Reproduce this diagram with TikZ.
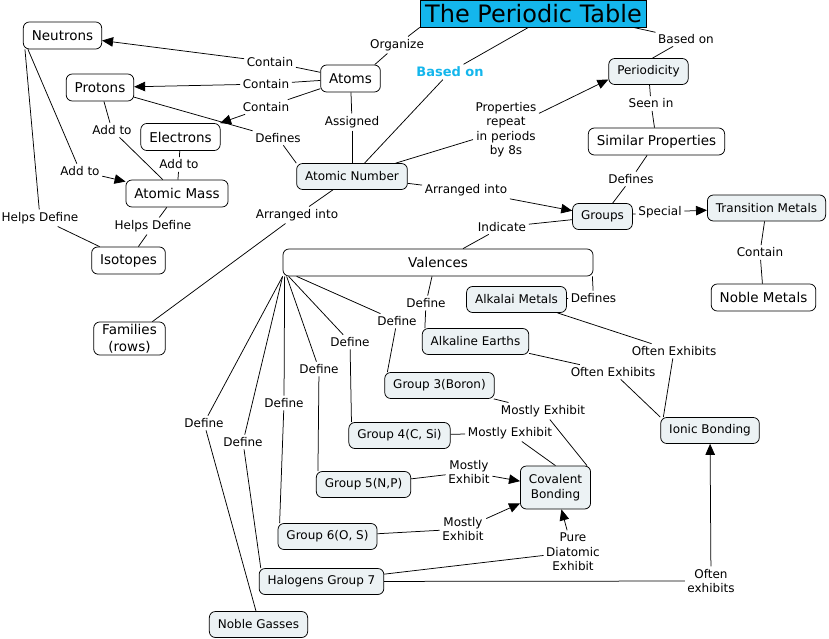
\documentclass[tikz,border=0pt]{standalone}
\usepackage{fontspec}
\setmainfont{DejaVu Sans}
\usetikzlibrary{arrows.meta}
\definecolor{titlecyan}{RGB}{20,182,236}
\definecolor{conceptfill}{RGB}{236,242,244}
\tikzset{	x=1pt, y=-1pt,
	concept/.style={
		draw, rounded corners=6pt, line width=0.75pt,
		minimum height=27pt, inner xsep=8.5pt, inner ysep=2pt,
		align=center, font=\fontsize{13.5}{17}\selectfont},
	fconcept/.style={
		concept, fill=conceptfill, minimum height=26pt,
		font=\fontsize{12}{14.5}\selectfont},
	titlebox/.style={
		draw, fill=titlecyan, line width=0.75pt,
		minimum height=27pt, inner xsep=5pt, inner ysep=0pt,
		font=\fontsize{24}{26}\selectfont},
	phrase/.style={
		inner sep=2.5pt, align=center,
		font=\fontsize{12}{14.5}\selectfont},
	>={Triangle[length=11pt,width=9.5pt]},
	every edge/.style={
		draw, line width=0.75pt}
}
\begin{document}
\begin{tikzpicture}
	\useasboundingbox (0,0) rectangle (829,639);
	\node[titlebox] (title) at (533.5,13.5) {The Periodic Table};
	\node[concept] (neut) at (62.5,35.5) {Neutrons};
	\node[concept] (prot) at (100,87.5) {Protons};
	\node[concept] (elec) at (180.5,137) {Electrons};
	\node[concept] (atoms) at (350.5,78.5) {Atoms};
	\node[concept] (amass) at (177,193.5) {Atomic Mass};
	\node[concept] (iso) at (128.5,260.5) {Isotopes};
	\node[concept] (fam) at (129.5,338.5) {Families\\(rows)};
	\node[concept, minimum width=310pt] (val) at (438,262.5) {Valences};
	\node[concept] (simprop) at (656.5,141.5) {Similar Properties};
	\node[concept] (nmet) at (763.5,297.5) {Noble Metals};
	\node[fconcept] (anum) at (352,176.5) {Atomic Number};
	\node[fconcept] (peri) at (648.5,71.5) {Periodicity};
	\node[fconcept] (grp) at (602.5,216.5) {Groups};
	\node[fconcept] (trans) at (766.5,208) {Transition Metals};
	\node[fconcept] (alkm) at (516.5,299.5) {Alkalai Metals};
	\node[fconcept] (alke) at (475.5,341.5) {Alkaline Earths};
	\node[fconcept] (gthree) at (439.5,385.5) {Group 3(Boron)};
	\node[fconcept] (gfour) at (399.5,435.5) {Group 4(C, Si)};
	\node[fconcept] (gfive) at (363.5,484.5) {Group 5(N,P)};
	\node[fconcept] (gsix) at (327.5,536.5) {Group 6(O, S)};
	\node[fconcept, minimum height=43pt] (cov) at (555.5,487.5) {Covalent\\Bonding};
	\node[fconcept] (halo) at (321.5,581.5) {Halogens Group 7};
	\node[fconcept] (ngas) at (258.5,624.5) {Noble Gasses};
	\node[fconcept] (ionic) at (710,430.5) {Ionic Bonding};
	\node[phrase] (porg) at (397,45) {Organize};
	\node[phrase, text=titlecyan, font=\bfseries\fontsize{13}{15}\selectfont] (pbase) at (450,72) {Based on};
	\node[phrase] (pbaseb) at (686,39) {Based on};
	\node[phrase] (pcontn) at (270,62) {Contain};
	\node[phrase] (pcontp) at (266,84) {Contain};
	\node[phrase] (pconte) at (266,107) {Contain};
	\node[phrase] (passig) at (352,122) {Assigned};
	\node[phrase] (pdefan) at (278,138) {Defines};
	\node[phrase] (paddp) at (112,130) {Add to};
	\node[phrase] (padde) at (179,164.5) {Add to};
	\node[phrase] (paddn) at (80,171) {Add to};
	\node[phrase] (phelpn) at (40,218) {Helps Define};
	\node[phrase] (phelpm) at (153,226) {Helps Define};
	\node[phrase] (parrf) at (297,215) {Arranged into};
	\node[phrase] (pprop) at (506,129.5) {Properties\\repeat\\in periods\\by 8s};
	\node[phrase] (pseen) at (651,103.5) {Seen in};
	\node[phrase] (pdefg) at (631,179) {Defines};
	\node[phrase] (parrg) at (466,190.5) {Arranged into};
	\node[phrase] (pspec) at (660,212) {Special};
	\node[phrase] (pind) at (502,227) {Indicate};
	\node[phrase] (pcontt) at (760,252.5) {Contain};
	\node[phrase] (pdefalk) at (593.5,298) {Defines};
	\node[phrase] (pdefae) at (426,303) {Define};
	\node[phrase] (pdefgthree) at (397,321) {Define};
	\node[phrase] (pdefgfour) at (350,342) {Define};
	\node[phrase] (pdefgfive) at (319,369) {Define};
	\node[phrase] (pdefgsix) at (284,403) {Define};
	\node[phrase] (pdefhal) at (243,442) {Define};
	\node[phrase] (pdefng) at (204,423) {Define};
	\node[phrase] (poftalk) at (674,351) {Often Exhibits};
	\node[phrase] (poftae) at (613,372) {Often Exhibits};
	\node[phrase] (pmostthree) at (543,411) {Mostly Exhibit};
	\node[phrase] (pmostfour) at (510,433) {Mostly Exhibit};
	\node[phrase] (pmostfive) at (469,472) {Mostly\\Exhibit};
	\node[phrase] (pmostsix) at (463,529) {Mostly\\Exhibit};
	\node[phrase] (ppure) at (573,552) {Pure\\Diatomic\\Exhibit};
	\node[phrase] (poftion) at (711,581) {Often\\exhibits};
	\draw (title.south west) edge (porg) (porg) edge ([xshift=-6pt]atoms.north east);
	\draw ([xshift=-5pt]title.south) edge (pbase) (pbase) edge (anum);
	\draw ([xshift=-14pt]title.south east) edge (pbaseb) (pbaseb) edge ([xshift=4pt]peri.north);
	\draw (atoms) edge (pcontn) (pcontn) edge[->] (neut);
	\draw (atoms) edge (pcontp) (pcontp) edge[->] (prot);
	\draw (atoms) edge (pconte) (pconte) edge[->] (elec);
	\draw (atoms) edge (passig) (passig) edge (anum);
	\draw (prot) edge (pdefan) (pdefan) edge (anum.north west);
	\draw (prot) edge (paddp) (paddp) edge (amass);
	\draw (elec) edge (padde) (padde) edge (amass);
	\draw ([xshift=5pt]neut.south west) edge (paddn) (paddn) edge[->] (amass);
	\draw ([xshift=2pt]neut.south west) edge (phelpn) (phelpn) edge (iso);
	\draw (amass) edge (phelpm) (phelpm) edge (iso);
	\draw (anum) edge (parrf) (parrf) edge (fam);
	\draw (anum) edge (pprop) (pprop) edge[->] ([yshift=-8pt]peri.west);
	\draw (peri) edge (pseen) (pseen) edge (simprop);
	\draw (simprop) edge (pdefg) (pdefg) edge (grp);
	\draw (anum) edge (parrg) (parrg) edge[->] (grp);
	\draw (grp) edge (pspec) (pspec) edge[->] (trans);
	\draw (grp) edge (pind) (pind) edge (val);
	\draw (trans) edge (pcontt) (pcontt) edge (nmet);
	\draw ([xshift=-1pt]val.south east) edge (pdefalk) (pdefalk) edge (alkm);
	\draw ([xshift=-6pt]val.south) edge (pdefae) (pdefae) edge ([xshift=3pt]alke.north west);
	\draw ([xshift=14pt]val.south west) edge (pdefgthree) (pdefgthree) edge ([xshift=3pt]gthree.north west);
	\draw ([xshift=6pt]val.south west) edge (pdefgfour) (pdefgfour) edge ([xshift=3pt]gfour.north west);
	\draw ([xshift=4pt]val.south west) edge (pdefgfive) (pdefgfive) edge ([xshift=2pt]gfive.north west);
	\draw ([xshift=2pt]val.south west) edge (pdefgsix) (pdefgsix) edge ([xshift=2pt]gsix.north west);
	\draw (val.south west) edge (pdefhal) (pdefhal) edge ([xshift=2pt]halo.north west);
	\draw (val.south west) edge (pdefng) (pdefng) edge ([xshift=-2.5pt]ngas.north);
	\draw (alkm) edge (poftalk) (poftalk) edge ([xshift=3pt]ionic.north west);
	\draw (alke) edge (poftae) (poftae) edge (ionic.north west);
	\draw (gthree) edge (pmostthree) (pmostthree) edge ([xshift=-4pt]cov.north east);
	\draw (gfour) edge (pmostfour) (pmostfour) edge (cov.north);
	\draw (gfive) edge (pmostfive) (pmostfive) edge[->] (cov);
	\draw (gsix) edge (pmostsix) (pmostsix) edge[->] (cov);
	\draw (halo) edge (ppure) (ppure) edge[->] (cov);
	\draw (halo) edge (poftion) (poftion) edge[->] (ionic);
\end{tikzpicture}
\end{document}
